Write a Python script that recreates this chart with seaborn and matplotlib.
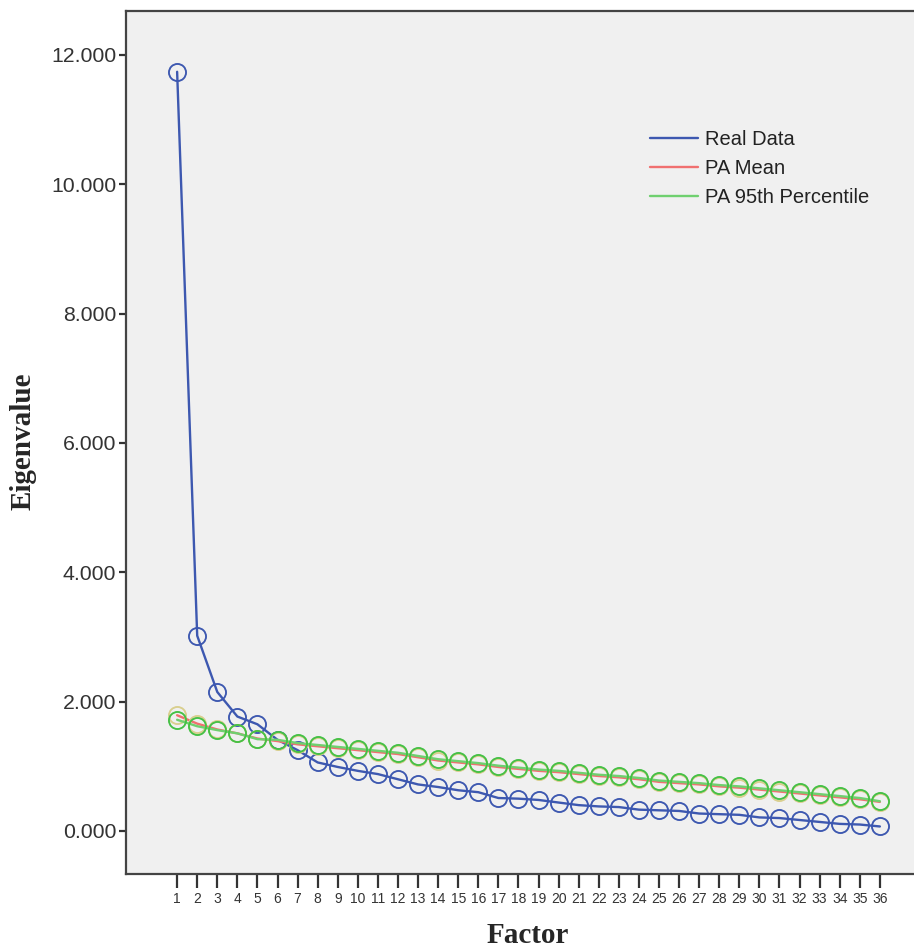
import numpy as np
import pandas as pd
import matplotlib
matplotlib.use("Agg")
import matplotlib.pyplot as plt
import seaborn as sns

# eigenvalues
factors = list(range(1, 37))
real_data = [11.74, 3.02, 2.15, 1.77, 1.65, 1.41, 1.25, 1.06, 0.99, 0.93,
             0.88, 0.80, 0.72, 0.68, 0.63, 0.60, 0.51, 0.50, 0.48, 0.44,
             0.40, 0.38, 0.37, 0.33, 0.32, 0.31, 0.27, 0.26, 0.25, 0.21,
             0.20, 0.17, 0.14, 0.11, 0.10, 0.07]
pa_mean = [1.79, 1.66, 1.57, 1.51, 1.43, 1.39, 1.34, 1.31, 1.28, 1.25,
           1.22, 1.19, 1.14, 1.09, 1.06, 1.03, 0.99, 0.96, 0.93, 0.91,
           0.88, 0.85, 0.83, 0.80, 0.76, 0.74, 0.72, 0.69, 0.67, 0.64,
           0.61, 0.58, 0.55, 0.52, 0.49, 0.45]
pa_95 = [1.72, 1.62, 1.56, 1.51, 1.42, 1.41, 1.36, 1.33, 1.30, 1.27,
         1.24, 1.21, 1.16, 1.11, 1.08, 1.05, 1.01, 0.98, 0.95, 0.93,
         0.90, 0.87, 0.85, 0.82, 0.78, 0.76, 0.74, 0.71, 0.69, 0.66,
         0.63, 0.60, 0.57, 0.54, 0.51, 0.46]
y_ticks = [0, 2, 4, 6, 8, 10, 12]

BLUE = "#3d58b0"
RED = "#f07070"
GREEN = "#6fd06f"
GREEN_MK = "#45c045"
TAN = "#d9cf8e"

sns.set_style("ticks")
plt.rcParams["font.family"] = ["Liberation Sans", "DejaVu Sans"]

fig = plt.figure(figsize=(9.14, 9.49), dpi=100)
ax = fig.add_axes([126 / 914, 1 - 874 / 949, 1 - 126 / 914 + 0.002, (874 - 11) / 949])
ax.set_facecolor("#f0f0f0")

series = [
    ("Real Data", real_data, BLUE, BLUE),
    ("PA Mean", pa_mean, RED, TAN),
    ("PA 95th Percentile", pa_95, GREEN, GREEN_MK),
]
for name, vals, lc, mc in series:
    df = pd.DataFrame({"Factor": factors, "Eigenvalue": vals})
    sns.lineplot(data=df, x="Factor", y="Eigenvalue", ax=ax, color=lc,
                 linewidth=1.7, marker="o", markersize=12.3,
                 markerfacecolor="none", markeredgecolor=mc,
                 markeredgewidth=1.35, label=name)

ax.set_xlim(-1.546, 37.79)
ax.set_ylim(-0.665, 12.68)
ax.set_xticks(factors)
ax.set_xticklabels([str(f) for f in factors], fontsize=10, color="#333333")
ax.set_yticks(y_ticks)
ax.set_yticklabels([f"{v:.3f}" for v in y_ticks], fontsize=15.3, color="#333333")
ax.tick_params(axis="x", direction="out", length=10, width=1.6, color="#333333", pad=3)
ax.tick_params(axis="y", direction="out", length=5, width=1.6, color="#333333", pad=2)

for side in ["left", "bottom", "top"]:
    ax.spines[side].set_color("#444444")
    ax.spines[side].set_linewidth(1.6)
ax.spines["right"].set_visible(False)

serif = ["Liberation Serif", "DejaVu Serif"]
ax.set_xlabel("Factor", fontsize=21, fontweight="bold", family=serif)
ax.set_ylabel("Eigenvalue", fontsize=21, fontweight="bold", family=serif)
ax.xaxis.set_label_coords(0.509, -0.056)
ax.yaxis.set_label_coords(-0.113, 0.502)

leg = ax.legend(loc="upper left", bbox_to_anchor=(0.664, 0.862),
                frameon=False, fontsize=14.5, handlelength=2.35,
                handletextpad=0.35, labelspacing=0.5, borderpad=0,
                borderaxespad=0)
for h in leg.legend_handles:
    h.set_marker("")
    h.set_linewidth(1.7)
for t in leg.get_texts():
    t.set_color("#222222")

fig.savefig("out.png", dpi=100, facecolor="white")
